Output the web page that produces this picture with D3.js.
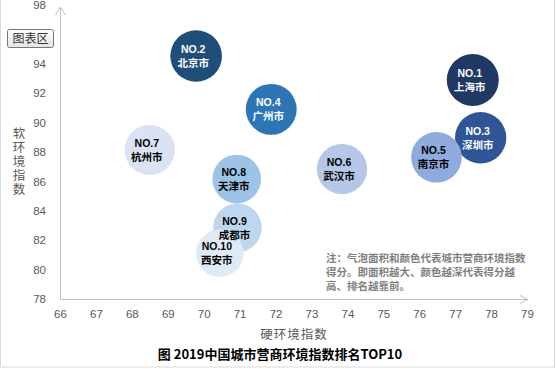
<!DOCTYPE html>
<html>
<head>
<meta charset="utf-8">
<script src="https://cdn.jsdelivr.net/npm/d3@7"></script>
<style>
  body { margin: 0; background: #fff; }
  svg { display: block; }
</style>
</head>
<body>
<svg id="chart" width="556" height="369"></svg>
<script>
// bubble data
const cities = ["上海市", "北京市", "深圳市", "广州市", "南京市", "武汉市", "杭州市", "天津市", "成都市", "西安市"];
const ranks = ["NO.1", "NO.2", "NO.3", "NO.4", "NO.5", "NO.6", "NO.7", "NO.8", "NO.9", "NO.10"];
const hardIndex = [77.49, 69.79, 77.71, 71.88, 76.48, 73.85, 68.5, 70.92, 70.94, 70.45];
const softIndex = [92.9, 94.53, 88.97, 90.9, 87.64, 86.84, 88.14, 86.16, 82.85, 81.11];
const score = [85.0, 83.8, 82.9, 81.5, 80.6, 79.4, 78.9, 74.5, 74.2, 71.0];
const colors = ["#203864", "#1f4e79", "#2f5597", "#2e75b6", "#8faadc", "#b4c7e7", "#dae3f3", "#9dc3e6", "#bdd7ee", "#deebf7"];
const labelColors = ["#fff", "#fff", "#fff", "#fff", "#000", "#000", "#000", "#000", "#000", "#000"];
const xTicks = d3.range(66, 80, 1);
const yTicks = d3.range(78, 99, 2);
const noteLines = ["注：气泡面积和颜色代表城市营商环境指数", "得分。即面积越大、颜色越深代表得分越", "高、排名越靠前。"];

const svg = d3.select("#chart");
const cjk = "'Noto Sans CJK SC', 'Noto Sans', sans-serif";
const axisGray = "#bfbfbf";
const textGray = "#595959";

const x = d3.scaleLinear().domain([66, 79]).range([60, 527]);
const y = d3.scaleLinear().domain([78, 98]).range([299, 5]);
const r = d3.scaleSqrt().domain([0, 85]).range([0, 26]);

// outer frame
svg.append("rect")
  .attr("x", 0.5).attr("y", -2)
  .attr("width", 554).attr("height", 369)
  .attr("fill", "none").attr("stroke", "#d9d9d9");

// axes: labels only, lines drawn by hand with arrows
const xAxis = svg.append("g")
  .attr("transform", `translate(0,${y(78)})`)
  .call(d3.axisBottom(x).tickValues(xTicks).tickSize(0).tickPadding(11).tickFormat(d3.format("d")));
// the 96 label sits under the "图表区" box in the screenshot
const yAxis = svg.append("g")
  .attr("transform", `translate(${x(66)},0)`)
  .call(d3.axisLeft(y).tickValues(yTicks).tickSize(0).tickPadding(14).tickFormat((d) => (d === 96 ? "" : d)));
[xAxis, yAxis].forEach((g) => {
  g.select(".domain").remove();
  g.selectAll("text")
    .attr("fill", textGray)
    .style("font-family", "'Liberation Sans', Arial, sans-serif")
    .style("font-size", "11.5px");
});

const x0 = Math.round(x(66)) + 0.5;
const y0 = Math.round(y(78)) + 0.5;
svg.append("path")
  .attr("d", `M${x0},${y0} H528 M520,${y0 - 4} L528,${y0} L520,${y0 + 4}`)
  .attr("fill", "none").attr("stroke", axisGray).attr("stroke-width", 1);
svg.append("path")
  .attr("d", `M${x0},${y0} V7 M${x0 - 5},15 L${x0},7 L${x0 + 5},15`)
  .attr("fill", "none").attr("stroke", axisGray).attr("stroke-width", 1);

// bubbles first, labels on top of all of them
const points = cities.map((c, i) => ({ city: c, rank: ranks[i], hx: hardIndex[i], sy: softIndex[i], s: score[i], i }));

svg.append("g")
  .selectAll("circle")
  .data(points)
  .join("circle")
  .attr("cx", (d) => x(d.hx))
  .attr("cy", (d) => y(d.sy))
  .attr("r", (d) => r(d.s))
  .attr("fill", (d) => colors[d.i]);

const labels = svg.append("g")
  .selectAll("g")
  .data(points)
  .join("g")
  .attr("transform", (d) => `translate(${x(d.hx) - 3},${y(d.sy)})`);

labels.append("text")
  .attr("y", -3)
  .attr("text-anchor", "middle")
  .attr("fill", (d) => labelColors[d.i])
  .style("font-family", "'Liberation Sans', Arial, sans-serif")
  .style("font-weight", "bold")
  .style("font-size", "10.5px")
  .text((d) => d.rank);

labels.append("text")
  .attr("y", 11)
  .attr("text-anchor", "middle")
  .attr("fill", (d) => labelColors[d.i])
  .style("font-family", cjk)
  .style("font-weight", "bold")
  .style("font-size", "10.5px")
  .text((d) => d.city);

// note
svg.append("g")
  .selectAll("text")
  .data(noteLines)
  .join("text")
  .attr("x", 326)
  .attr("y", (d, i) => 262 + i * 14)
  .attr("fill", "#7f7f7f")
  .style("font-family", cjk)
  .style("font-weight", "bold")
  .style("font-size", "10.5px")
  .text((d) => d);

// axis titles
svg.append("text")
  .attr("x", 294).attr("y", 339)
  .attr("text-anchor", "middle")
  .attr("fill", textGray)
  .style("font-family", cjk)
  .style("font-size", "12.5px")
  .style("letter-spacing", "1px")
  .text("硬环境指数");

svg.append("text")
  .attr("x", 19).attr("y", 127)
  .attr("fill", textGray)
  .style("writing-mode", "vertical-rl")
  .style("font-family", cjk)
  .style("font-size", "12.5px")
  .style("letter-spacing", "1.5px")
  .text("软环境指数");

// chart title
svg.append("text")
  .attr("x", 280).attr("y", 359)
  .attr("text-anchor", "middle")
  .attr("fill", "#000")
  .style("font-family", cjk)
  .style("font-weight", "bold")
  .style("font-size", "13px")
  .text("图 2019中国城市营商环境指数排名TOP10");

// the "图表区" tooltip box
const grad = svg.append("defs").append("linearGradient")
  .attr("id", "btnGrad").attr("x1", 0).attr("y1", 0).attr("x2", 0).attr("y2", 1);
grad.append("stop").attr("offset", "0%").attr("stop-color", "#ffffff");
grad.append("stop").attr("offset", "100%").attr("stop-color", "#e4e4e4");
svg.append("rect")
  .attr("x", 7.5).attr("y", 29.5)
  .attr("width", 46).attr("height", 18)
  .attr("rx", 2)
  .attr("fill", "url(#btnGrad)")
  .attr("stroke", "#767676");
svg.append("text")
  .attr("x", 30.5).attr("y", 43)
  .attr("text-anchor", "middle")
  .attr("fill", "#333")
  .style("font-family", cjk)
  .style("font-size", "12px")
  .text("图表区");
</script>
</body>
</html>
